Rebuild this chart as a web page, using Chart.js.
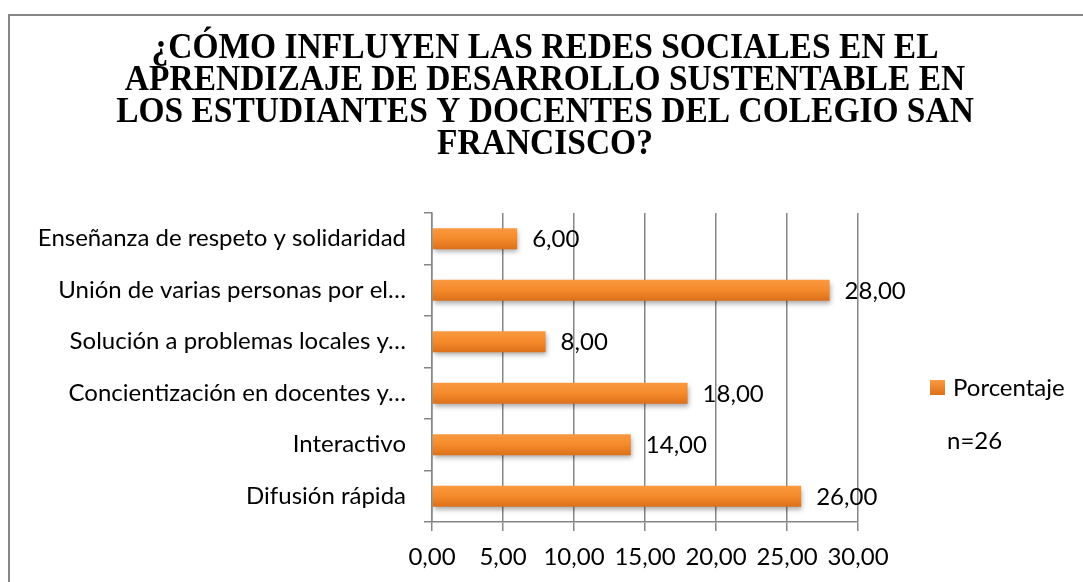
<!DOCTYPE html>
<html>
<head>
<meta charset="utf-8">
<script src="https://cdn.jsdelivr.net/npm/chart.js@4.4.1/dist/chart.umd.min.js"></script>
<style>
  html, body { margin: 0; padding: 0; background: #fff; overflow: hidden; }
  #wrap { position: absolute; left: 0; top: 0; width: 1083px; height: 582px; }
  #frame { position: absolute; left: 8px; top: 14px; width: 1200px; height: 700px;
           border-left: 2px solid #868686; border-top: 2px solid #868686; }
  canvas { position: absolute; left: 0; top: 0; }
</style>
</head>
<body>
<div id="wrap">
  <div id="frame"></div>
  <canvas id="c" width="1083" height="582"></canvas>
</div>
<script>
const titleLines = [
  "¿CÓMO INFLUYEN LAS REDES SOCIALES EN EL",
  "APRENDIZAJE DE DESARROLLO SUSTENTABLE EN",
  "LOS ESTUDIANTES Y DOCENTES DEL COLEGIO SAN",
  "FRANCISCO?"
];
const categories = [
  "Enseñanza de respeto y solidaridad",
  "Unión de varias personas por el…",
  "Solución a problemas locales y…",
  "Concientización en docentes y…",
  "Interactivo",
  "Difusión rápida"
];
const porcentaje = [6, 28, 8, 18, 14, 26];
const seriesName = "Porcentaje";
const sampleNote = "n=26";
const xTicks = [0, 5, 10, 15, 20, 25, 30];

const fmt = v => Number(v).toFixed(2).replace('.', ',');
const FONT = "Lato, 'Liberation Sans', sans-serif";
const FS = 24;

const titlePlugin = {
  id: 'serifTitle',
  afterDraw(chart) {
    const ctx = chart.ctx;
    ctx.save();
    ctx.fillStyle = '#000';
    ctx.textAlign = 'center';
    ctx.textBaseline = 'middle';
    ctx.font = "bold 36px 'Liberation Serif', 'Times New Roman', serif";
    const cx = 545, sx = 0.93;
    titleLines.forEach((t, i) => {
      ctx.save();
      ctx.translate(cx, 49 + i * 32);
      ctx.scale(sx, 1);
      ctx.fillText(t, 0, 0);
      ctx.restore();
    });
    ctx.restore();
  }
};

const shadowPlugin = {
  id: 'barShadow',
  beforeDatasetsDraw(chart) {
    const ctx = chart.ctx;
    ctx.save();
    ctx.shadowColor = 'rgba(0,0,0,0.35)';
    ctx.shadowBlur = 5;
    ctx.shadowOffsetX = 1;
    ctx.shadowOffsetY = 3;
  },
  afterDatasetsDraw(chart) {
    chart.ctx.restore();
  }
};

const labelPlugin = {
  id: 'valueLabels',
  afterDatasetsDraw(chart) {
    const ctx = chart.ctx;
    const meta = chart.getDatasetMeta(0);
    ctx.save();
    ctx.fillStyle = '#000';
    ctx.font = FS + "px " + FONT;
    ctx.textAlign = 'left';
    ctx.textBaseline = 'middle';
    meta.data.forEach((bar, i) => {
      ctx.fillText(fmt(chart.data.datasets[0].data[i]), bar.x + 15, bar.y + 1);
    });
    ctx.restore();
  }
};

const legendPlugin = {
  id: 'customLegend',
  afterDraw(chart) {
    const ctx = chart.ctx;
    ctx.save();
    const g = ctx.createLinearGradient(0, 380, 0, 395);
    g.addColorStop(0, '#F99A42');
    g.addColorStop(1, '#DC7019');
    ctx.fillStyle = g;
    ctx.fillRect(930, 380, 15, 15);
    ctx.fillStyle = '#000';
    ctx.font = FS + "px " + FONT;
    ctx.textAlign = 'left';
    ctx.textBaseline = 'middle';
    ctx.fillText(seriesName, 953, 388);
    ctx.fillText(sampleNote, 947, 441);
    ctx.restore();
  }
};

const ctx = document.getElementById('c').getContext('2d');
new Chart(ctx, {
  type: 'bar',
  data: {
    labels: categories,
    datasets: [{
      label: seriesName,
      data: porcentaje,
      backgroundColor: (c) => {
        const ch = c.chart;
        const ys = ch.scales && ch.scales.y;
        if (!ys || c.dataIndex === undefined) return '#F0831F';
        const cy = ys.getPixelForValue(c.dataIndex);
        if (!isFinite(cy)) return '#F0831F';
        const g = ch.ctx.createLinearGradient(0, cy - 11, 0, cy + 11);
        g.addColorStop(0, '#F99A42');
        g.addColorStop(0.5, '#F58A2A');
        g.addColorStop(1, '#DA6F1A');
        return g;
      },
      borderWidth: 0,
      barPercentage: 0.6,
      categoryPercentage: 0.68
    }]
  },
  options: {
    indexAxis: 'y',
    responsive: false,
    animation: false,
    events: [],
    layout: { padding: { top: 213, right: 225, bottom: 0, left: 0 } },
    plugins: {
      legend: { display: false },
      title: { display: false },
      tooltip: { enabled: false }
    },
    scales: {
      x: {
        min: 0, max: 30,
        afterBuildTicks: (s) => { s.ticks = xTicks.map(v => ({ value: v })); },
        afterFit: (s) => { s.height = 60; },
        ticks: {
          callback: (v) => fmt(v),
          color: '#000',
          font: { family: FONT, size: FS },
          padding: 12,
          maxRotation: 0
        },
        grid: { color: '#868686', lineWidth: 1.5, tickLength: 9, drawTicks: true },
        border: { color: '#868686', width: 1.5 }
      },
      y: {
        afterFit: (s) => { s.width = 432; },
        ticks: {
          color: '#000',
          font: { family: FONT, size: FS },
          padding: 18
        },
        grid: { offset: true, drawOnChartArea: false, color: '#868686', lineWidth: 1.5, tickLength: 8 },
        border: { color: '#868686', width: 1.5 }
      }
    }
  },
  plugins: [shadowPlugin, labelPlugin, titlePlugin, legendPlugin]
});
</script>
</body>
</html>
